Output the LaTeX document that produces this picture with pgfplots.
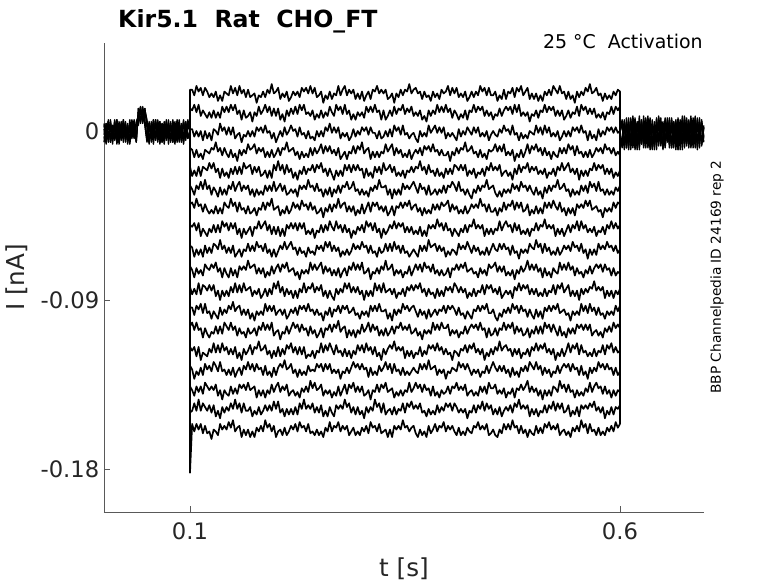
\documentclass[border=0pt]{standalone}
\usepackage{fontspec}
\setmainfont{DejaVu Sans}
\usepackage{pgfplots}
\usepackage{pgfplotstable}
\pgfplotsset{compat=1.18}

% current traces during the step, in units of 0.001 nA
\pgfplotstableread{
x a1 a2 a3 a4 a5 a6 a7 a8 a9 a10 a11 a12 a13 a14 a15 a16 a17 a18
0.1 0 0 0 0 0 0 0 0 0 0 0 0 0 0 0 0 0 0
0.1 22 12 1 -9 -19 -29 -39 -50 -61 -72 -83 -94 -104 -115 -125 -136 -150 -182
0.1025 22 11 1 -10 -24 -31 -38 -51 -62 -74 -87 -94 -102 -117 -127 -138 -149 -156
0.105 19 14 -3 -14 -21 -34 -41 -49 -67 -78 -84 -98 -106 -115 -132 -141 -145 -160
0.1075 24 10 0 -10 -24 -29 -36 -53 -63 -73 -87 -93 -102 -120 -128 -136 -149 -156
0.11 21 14 -3 -14 -19 -31 -40 -49 -66 -76 -81 -95 -106 -115 -130 -139 -143 -159
0.1125 23 8 0 -12 -24 -27 -39 -56 -63 -74 -87 -92 -105 -122 -126 -136 -149 -156
0.115 19 11 -5 -15 -19 -31 -43 -52 -67 -77 -82 -97 -110 -118 -130 -140 -145 -161
0.1175 23 9 0 -10 -20 -26 -39 -54 -61 -71 -83 -92 -105 -119 -124 -134 -147 -157
0.12 21 7 -4 -11 -21 -31 -42 -56 -65 -73 -85 -97 -108 -120 -127 -136 -149 -161
0.1225 18 10 -1 -12 -17 -29 -44 -52 -62 -74 -82 -96 -110 -116 -125 -138 -146 -160
0.125 20 7 -5 -9 -20 -34 -42 -54 -65 -71 -85 -100 -107 -118 -128 -136 -150 -164
0.1275 18 11 1 -10 -17 -30 -44 -50 -60 -73 -82 -96 -108 -113 -123 -138 -146 -159
0.13 21 7 0 -6 -22 -32 -40 -54 -61 -70 -88 -98 -104 -118 -125 -135 -152 -160
0.1325 16 10 -2 -11 -20 -35 -44 -50 -63 -75 -85 -100 -108 -114 -128 -141 -149 -162
0.135 19 7 4 -9 -25 -30 -41 -54 -58 -73 -90 -94 -104 -118 -123 -138 -153 -156
0.1375 16 13 0 -13 -20 -34 -44 -48 -63 -78 -85 -98 -108 -113 -128 -143 -147 -159
0.14 21 10 2 -9 -24 -31 -38 -51 -61 -73 -88 -95 -102 -117 -127 -138 -150 -157
0.1425 20 13 -2 -12 -22 -34 -40 -49 -65 -76 -85 -97 -104 -115 -130 -140 -147 -159
0.145 19 10 2 -14 -25 -29 -41 -53 -62 -78 -88 -93 -106 -119 -127 -141 -149 -155
0.1475 24 14 -2 -10 -20 -31 -36 -49 -65 -73 -83 -95 -102 -116 -130 -136 -145 -158
0.15 20 11 2 -14 -23 -27 -40 -52 -61 -77 -86 -91 -106 -119 -126 -140 -148 -154
0.1525 23 14 -4 -12 -19 -32 -38 -49 -67 -74 -81 -96 -104 -115 -131 -137 -143 -160
0.155 19 9 -2 -16 -23 -29 -43 -55 -65 -78 -86 -94 -109 -121 -128 -140 -148 -158
0.1575 24 11 -1 -10 -19 -27 -38 -52 -63 -72 -82 -93 -105 -118 -126 -135 -145 -157
0.16 20 6 -6 -13 -23 -32 -42 -57 -67 -74 -86 -98 -108 -122 -130 -137 -150 -163
0.1625 22 11 -2 -10 -17 -29 -41 -52 -63 -72 -81 -95 -107 -116 -125 -135 -145 -159
0.165 18 7 -3 -12 -20 -31 -44 -55 -64 -74 -85 -98 -110 -119 -127 -138 -149 -162
0.1675 22 8 0 -7 -19 -29 -40 -53 -60 -69 -84 -95 -105 -117 -123 -134 -149 -159
0.17 18 10 -3 -10 -18 -34 -44 -51 -64 -73 -83 -100 -108 -114 -127 -138 -147 -163
0.1725 19 5 0 -9 -23 -31 -43 -56 -61 -72 -88 -97 -107 -119 -124 -137 -152 -160
0.175 20 10 -3 -7 -19 -35 -41 -51 -64 -71 -85 -101 -105 -115 -128 -136 -149 -163
0.1775 15 8 2 -12 -22 -31 -45 -52 -59 -76 -87 -96 -109 -116 -124 -142 -151 -158
0.18 19 13 0 -9 -19 -34 -41 -48 -62 -73 -84 -98 -104 -112 -127 -138 -147 -160
0.1825 18 9 2 -11 -24 -32 -42 -52 -61 -76 -89 -96 -106 -117 -126 -141 -151 -157
0.185 21 11 -1 -9 -23 -34 -38 -50 -64 -73 -87 -98 -102 -116 -130 -138 -149 -160
0.1875 18 14 3 -14 -21 -29 -42 -48 -60 -78 -84 -92 -106 -114 -125 -142 -146 -154
0.19 22 10 -1 -11 -25 -32 -38 -53 -65 -75 -88 -96 -103 -119 -130 -138 -149 -158
0.1925 20 13 0 -14 -21 -29 -40 -50 -63 -77 -84 -93 -106 -117 -128 -140 -146 -156
0.195 25 8 -4 -10 -25 -32 -36 -55 -67 -72 -87 -96 -102 -121 -131 -135 -149 -160
0.1975 20 12 -1 -14 -18 -27 -42 -51 -63 -76 -81 -93 -109 -117 -126 -139 -144 -157
0.2 21 8 -6 -12 -21 -32 -41 -55 -67 -73 -84 -98 -107 -120 -130 -136 -148 -163
0.2025 23 12 -3 -9 -16 -30 -40 -51 -64 -71 -80 -96 -106 -115 -126 -134 -144 -160
0.205 17 6 0 -13 -21 -28 -45 -56 -61 -75 -86 -95 -111 -120 -124 -139 -150 -159
0.2075 20 9 -3 -9 -18 -32 -42 -52 -63 -71 -83 -98 -107 -116 -126 -136 -148 -162
0.21 18 5 2 -10 -23 -29 -44 -56 -59 -73 -88 -95 -108 -119 -122 -138 -152 -158
0.2125 21 11 -2 -6 -18 -34 -40 -50 -63 -70 -84 -100 -104 -114 -127 -135 -148 -162
0.215 16 8 0 -11 -22 -33 -44 -52 -61 -75 -87 -98 -108 -116 -126 -141 -151 -160
0.2175 18 12 3 -10 -20 -31 -42 -49 -59 -74 -85 -95 -105 -113 -124 -139 -148 -157
0.22 21 9 0 -9 -25 -33 -38 -52 -63 -73 -89 -97 -102 -118 -129 -138 -151 -159
0.2225 19 13 1 -13 -22 -31 -41 -49 -62 -77 -85 -94 -105 -115 -127 -141 -147 -156
0.225 21 9 -3 -11 -26 -35 -39 -53 -66 -75 -89 -98 -103 -119 -131 -139 -151 -160
0.2275 18 14 2 -15 -21 -29 -42 -49 -62 -79 -84 -93 -107 -115 -127 -142 -145 -155
0.23 23 11 -2 -11 -23 -31 -37 -52 -65 -74 -86 -95 -103 -119 -130 -137 -148 -158
0.2325 21 14 -1 -14 -19 -29 -40 -49 -64 -76 -81 -93 -106 -115 -128 -139 -143 -157
0.235 23 9 -4 -12 -23 -31 -39 -55 -67 -74 -86 -96 -105 -121 -130 -136 -148 -160
0.2375 20 10 0 -14 -20 -26 -42 -53 -62 -76 -83 -92 -109 -119 -125 -139 -146 -156
0.24 24 8 -4 -9 -21 -30 -38 -55 -65 -70 -84 -96 -104 -120 -128 -133 -148 -161
0.2425 20 11 -3 -13 -18 -29 -42 -52 -64 -74 -81 -95 -108 -117 -127 -137 -145 -160
0.245 23 6 -5 -9 -22 -32 -40 -57 -66 -71 -86 -98 -106 -121 -128 -134 -150 -162
0.2475 18 9 0 -12 -18 -28 -44 -53 -61 -74 -83 -95 -110 -117 -124 -138 -147 -159
0.25 19 7 -3 -10 -20 -32 -43 -54 -63 -72 -85 -98 -108 -118 -126 -137 -150 -162
0.2525 21 11 0 -7 -17 -31 -41 -50 -61 -70 -82 -97 -105 -113 -124 -135 -146 -160
0.255 15 7 -3 -12 -22 -35 -46 -54 -64 -76 -88 -101 -110 -118 -128 -141 -152 -163
0.2575 19 10 2 -8 -20 -31 -41 -50 -59 -72 -85 -96 -105 -114 -124 -138 -149 -158
0.26 17 8 0 -11 -24 -34 -43 -53 -62 -75 -89 -98 -106 -117 -127 -140 -152 -160
0.2625 21 13 4 -8 -20 -30 -39 -48 -59 -73 -85 -94 -103 -113 -124 -138 -147 -155
0.265 17 10 -1 -12 -23 -35 -43 -51 -64 -77 -88 -99 -107 -116 -129 -142 -150 -160
0.2675 20 8 2 -10 -26 -31 -39 -53 -61 -74 -90 -95 -103 -119 -127 -139 -152 -157
0.27 19 14 -1 -13 -21 -33 -41 -48 -64 -77 -84 -96 -105 -114 -129 -141 -146 -158
0.2725 24 11 2 -9 -24 -29 -36 -52 -62 -73 -87 -93 -101 -118 -127 -136 -148 -155
0.275 19 13 -4 -15 -21 -33 -41 -50 -67 -78 -84 -97 -107 -117 -132 -141 -146 -160
0.2775 22 9 -1 -13 -24 -29 -39 -54 -64 -75 -86 -93 -105 -120 -128 -138 -148 -157
0.28 24 14 -3 -11 -18 -30 -38 -50 -66 -73 -81 -95 -104 -116 -129 -135 -143 -159
0.2825 19 9 -1 -15 -21 -27 -43 -54 -63 -77 -84 -93 -110 -120 -126 -140 -147 -157
0.285 22 11 -5 -11 -18 -31 -40 -52 -66 -72 -81 -97 -106 -117 -129 -135 -145 -162
0.2875 20 6 -3 -12 -22 -30 -43 -57 -64 -74 -86 -96 -109 -121 -126 -137 -150 -160
0.29 22 9 1 -8 -18 -27 -40 -53 -60 -70 -83 -94 -106 -117 -123 -134 -147 -158
0.2925 17 6 -3 -12 -21 -32 -45 -55 -63 -74 -86 -98 -110 -119 -126 -139 -151 -162
0.295 20 10 0 -8 -18 -31 -42 -51 -61 -71 -83 -97 -106 -114 -124 -136 -147 -160
0.2975 17 8 -2 -10 -21 -34 -44 -53 -63 -74 -87 -100 -108 -117 -127 -139 -151 -162
0.3 21 10 2 -6 -20 -31 -39 -50 -59 -70 -85 -96 -103 -114 -124 -136 -149 -158
0.3025 16 7 0 -12 -25 -34 -44 -54 -62 -76 -90 -98 -107 -118 -127 -141 -153 -160
0.305 19 13 2 -10 -20 -32 -41 -48 -61 -75 -85 -96 -105 -113 -126 -140 -147 -157
0.3075 21 10 -2 -9 -24 -35 -38 -51 -65 -73 -88 -99 -102 -117 -131 -138 -150 -161
0.31 17 13 2 -15 -22 -30 -43 -49 -61 -79 -85 -93 -107 -115 -126 -143 -147 -155
0.3125 22 10 -1 -11 -25 -32 -38 -53 -65 -75 -88 -96 -103 -119 -130 -138 -149 -158
0.315 21 14 -1 -14 -19 -29 -40 -49 -64 -76 -81 -93 -106 -115 -128 -139 -143 -157
0.3175 24 10 -4 -11 -22 -31 -38 -54 -67 -73 -85 -96 -104 -120 -130 -135 -147 -160
0.32 20 11 0 -14 -19 -26 -42 -52 -62 -76 -82 -92 -109 -118 -125 -139 -145 -156
0.3225 22 6 -4 -11 -23 -30 -40 -57 -65 -72 -86 -96 -106 -122 -128 -135 -150 -161
0.325 20 11 -3 -12 -17 -30 -43 -52 -64 -74 -81 -96 -109 -116 -126 -137 -145 -160
0.3275 22 6 0 -7 -21 -29 -40 -55 -60 -69 -86 -95 -105 -119 -123 -134 -151 -159
0.33 17 8 -3 -11 -20 -34 -45 -53 -64 -74 -85 -100 -109 -116 -127 -139 -149 -163
0.3325 18 11 1 -9 -18 -31 -43 -50 -60 -73 -84 -97 -107 -114 -124 -138 -148 -159
0.335 20 8 -3 -7 -22 -36 -40 -52 -64 -71 -87 -101 -104 -116 -129 -137 -151 -163
0.3375 15 13 3 -13 -19 -31 -45 -48 -59 -77 -84 -95 -108 -112 -124 -142 -147 -157
0.34 20 9 0 -9 -24 -34 -40 -52 -63 -74 -89 -98 -104 -117 -128 -139 -151 -159
0.3425 18 12 2 -12 -22 -31 -41 -49 -61 -76 -86 -95 -105 -115 -127 -141 -148 -157
0.345 22 11 -2 -10 -24 -34 -38 -51 -65 -74 -87 -97 -102 -117 -130 -138 -149 -159
0.3475 19 14 3 -14 -21 -28 -41 -49 -61 -78 -84 -92 -106 -115 -126 -141 -145 -154
0.35 22 9 -2 -12 -25 -31 -38 -54 -65 -75 -88 -95 -104 -121 -130 -138 -150 -158
0.3525 21 12 -1 -14 -21 -29 -40 -51 -64 -76 -83 -93 -106 -117 -128 -139 -145 -157
0.355 25 10 -4 -10 -22 -31 -37 -54 -67 -72 -85 -96 -103 -120 -130 -134 -147 -160
0.3575 20 13 -2 -15 -19 -29 -42 -51 -65 -77 -82 -94 -108 -117 -128 -139 -144 -158
0.36 22 8 -1 -12 -22 -27 -40 -55 -63 -74 -85 -93 -107 -121 -126 -137 -148 -157
0.3625 23 10 -4 -10 -19 -30 -39 -53 -65 -71 -82 -96 -105 -118 -128 -134 -146 -161
0.365 20 8 -6 -12 -20 -33 -43 -55 -67 -74 -84 -99 -109 -119 -129 -137 -148 -163
0.3675 21 11 0 -9 -16 -28 -41 -51 -61 -71 -81 -95 -107 -115 -124 -135 -145 -159
0.37 17 6 -3 -13 -21 -31 -45 -56 -64 -75 -86 -98 -111 -120 -127 -139 -150 -162
0.3725 21 8 -1 -8 -19 -30 -41 -53 -61 -70 -84 -96 -106 -117 -124 -135 -149 -160
0.375 18 5 -3 -10 -23 -34 -44 -56 -64 -73 -88 -100 -108 -119 -127 -138 -152 -163
0.3775 19 11 3 -8 -18 -29 -42 -50 -58 -72 -84 -95 -106 -114 -122 -137 -148 -157
0.38 16 8 -1 -11 -22 -34 -44 -52 -62 -75 -87 -99 -108 -116 -127 -141 -151 -161
0.3825 21 11 1 -7 -21 -33 -39 -50 -61 -71 -86 -97 -102 -114 -126 -136 -149 -159
0.385 18 9 3 -11 -24 -31 -42 -52 -60 -76 -89 -95 -106 -117 -125 -141 -151 -156
0.3875 20 14 -1 -10 -20 -34 -39 -47 -64 -74 -84 -98 -103 -113 -130 -139 -146 -160
0.39 17 10 2 -13 -24 -31 -42 -51 -61 -77 -88 -95 -106 -117 -127 -142 -150 -157
0.3925 22 13 -1 -10 -22 -33 -38 -49 -64 -74 -85 -96 -102 -115 -129 -138 -147 -158
0.395 20 10 2 -13 -25 -29 -40 -53 -62 -77 -88 -93 -105 -119 -127 -140 -149 -155
0.3975 21 14 -4 -13 -20 -33 -39 -49 -67 -76 -83 -97 -105 -116 -132 -139 -145 -160
0.4 24 10 -1 -11 -23 -29 -37 -53 -64 -73 -85 -93 -103 -119 -128 -136 -147 -157
0.4025 19 12 -3 -16 -20 -30 -43 -52 -66 -78 -83 -95 -109 -118 -129 -140 -145 -159
0.405 23 7 -1 -11 -23 -27 -39 -56 -63 -73 -86 -93 -106 -122 -126 -136 -149 -157
0.4075 20 11 -3 -13 -18 -29 -42 -52 -64 -74 -81 -95 -108 -117 -127 -137 -145 -160
0.41 23 9 -5 -9 -19 -32 -40 -54 -66 -71 -83 -98 -106 -118 -128 -134 -147 -162
0.4125 18 6 1 -12 -21 -27 -44 -56 -60 -74 -86 -94 -110 -120 -123 -138 -150 -158
0.415 20 9 -3 -9 -18 -32 -42 -52 -63 -71 -83 -98 -107 -116 -126 -136 -148 -162
0.4175 18 7 0 -10 -21 -31 -44 -54 -61 -73 -86 -97 -108 -117 -124 -138 -150 -160
0.42 21 11 -2 -6 -18 -34 -40 -50 -63 -70 -84 -100 -104 -114 -127 -135 -148 -162
0.4225 16 6 2 -11 -24 -31 -44 -54 -59 -75 -89 -96 -108 -118 -124 -141 -153 -158
0.425 18 11 0 -10 -21 -34 -42 -50 -62 -74 -86 -98 -105 -114 -127 -139 -149 -160
0.4275 21 10 -2 -8 -23 -36 -39 -51 -65 -73 -88 -100 -103 -116 -130 -138 -150 -161
0.43 18 14 2 -12 -20 -31 -41 -47 -61 -76 -84 -95 -105 -113 -127 -141 -146 -157
0.4325 21 10 -1 -11 -25 -33 -39 -52 -64 -75 -88 -96 -103 -118 -129 -139 -150 -158
0.435 19 13 2 -14 -22 -29 -41 -50 -62 -78 -85 -93 -106 -116 -127 -141 -146 -155
0.4375 24 11 -3 -10 -23 -32 -36 -52 -66 -73 -86 -96 -102 -119 -131 -136 -148 -159
0.44 21 13 -1 -14 -20 -29 -40 -50 -64 -76 -82 -93 -106 -116 -128 -139 -144 -157
0.4425 23 8 -3 -12 -24 -30 -39 -56 -66 -74 -87 -95 -105 -122 -129 -136 -149 -159
0.445 19 11 0 -15 -19 -26 -43 -52 -62 -77 -82 -92 -110 -118 -125 -140 -145 -156
0.4475 23 8 -5 -10 -21 -31 -39 -55 -66 -71 -84 -97 -105 -120 -129 -134 -148 -162
0.45 19 10 -2 -11 -17 -30 -43 -52 -63 -73 -82 -97 -109 -116 -126 -137 -146 -161
0.4525 19 6 0 -10 -21 -29 -43 -55 -60 -72 -86 -95 -108 -119 -123 -137 -151 -159
0.455 21 9 -2 -7 -19 -33 -41 -52 -63 -70 -84 -99 -105 -115 -126 -135 -148 -162
0.4575 16 8 -3 -11 -21 -35 -45 -53 -64 -75 -87 -101 -109 -117 -128 -140 -151 -163
0.46 19 12 1 -8 -18 -32 -41 -48 -60 -72 -83 -97 -105 -112 -125 -138 -147 -159
0.4625 17 8 -1 -11 -24 -35 -43 -53 -63 -75 -89 -99 -106 -117 -128 -140 -152 -161
0.465 22 11 3 -7 -22 -31 -38 -50 -60 -72 -87 -95 -102 -115 -125 -137 -149 -156
0.4675 17 13 0 -13 -21 -33 -42 -48 -63 -77 -85 -97 -106 -114 -129 -142 -147 -159
0.47 21 11 1 -11 -24 -31 -39 -51 -62 -75 -87 -94 -103 -117 -127 -139 -149 -156
0.4725 20 13 -2 -13 -22 -33 -40 -50 -66 -77 -85 -97 -105 -116 -131 -140 -146 -159
0.475 23 9 3 -10 -26 -28 -37 -54 -61 -74 -89 -92 -102 -120 -126 -137 -150 -154
0.4775 18 14 -2 -16 -20 -31 -42 -49 -65 -79 -83 -95 -108 -116 -130 -142 -145 -158
0.48 23 10 -1 -12 -23 -29 -38 -53 -64 -74 -85 -93 -104 -119 -128 -137 -147 -157
0.4825 21 14 -5 -14 -18 -32 -41 -50 -68 -76 -81 -97 -107 -116 -131 -138 -143 -161
0.485 24 8 -1 -10 -22 -27 -38 -55 -63 -72 -85 -93 -105 -121 -126 -135 -148 -157
0.4875 19 10 -4 -14 -19 -30 -43 -53 -65 -75 -82 -96 -109 -118 -128 -138 -146 -161
0.49 21 8 -2 -11 -20 -29 -42 -55 -63 -73 -84 -95 -108 -119 -125 -136 -148 -159
0.4925 23 10 -4 -7 -17 -32 -39 -52 -65 -69 -82 -99 -105 -116 -128 -133 -146 -163
0.495 17 5 0 -12 -22 -29 -45 -56 -60 -74 -87 -95 -110 -120 -123 -139 -152 -159
0.4975 20 9 -1 -8 -19 -32 -42 -52 -62 -71 -84 -98 -106 -115 -125 -136 -148 -161
0.5 17 8 -2 -10 -21 -34 -44 -53 -63 -74 -87 -100 -108 -117 -127 -139 -151 -162
0.5025 20 11 3 -7 -19 -30 -40 -49 -58 -71 -84 -95 -104 -113 -123 -137 -148 -157
0.505 16 7 -1 -11 -23 -34 -44 -53 -62 -75 -88 -99 -108 -117 -127 -141 -152 -161
0.5075 19 11 2 -9 -21 -32 -41 -50 -60 -73 -86 -96 -104 -114 -125 -138 -149 -158
0.51 16 10 -2 -13 -23 -36 -44 -51 -65 -78 -88 -100 -108 -116 -130 -143 -150 -161
0.5125 21 14 3 -9 -20 -30 -38 -47 -60 -73 -84 -94 -102 -113 -126 -138 -146 -156
0.515 19 10 -1 -13 -25 -33 -41 -52 -64 -77 -88 -96 -105 -118 -129 -141 -150 -158
0.5175 22 13 2 -11 -22 -29 -38 -50 -62 -75 -85 -93 -103 -116 -127 -138 -146 -155
0.52 19 11 -3 -15 -23 -32 -41 -52 -66 -78 -86 -96 -107 -119 -131 -141 -148 -159
0.5225 24 13 -1 -11 -20 -29 -37 -50 -64 -73 -82 -93 -103 -116 -128 -136 -144 -157
0.525 22 8 -3 -13 -24 -30 -40 -56 -66 -75 -87 -95 -106 -122 -129 -137 -149 -159
0.5275 20 11 0 -14 -19 -26 -42 -52 -62 -76 -82 -92 -109 -118 -125 -139 -145 -156
0.53 24 8 -5 -9 -21 -31 -38 -55 -66 -70 -84 -97 -104 -120 -129 -133 -148 -162
0.5325 20 11 -3 -12 -17 -30 -43 -52 -64 -74 -81 -96 -109 -116 -126 -137 -145 -160
0.535 21 6 0 -9 -21 -28 -41 -56 -61 -71 -86 -95 -107 -120 -124 -135 -150 -159
0.5375 17 8 -3 -12 -19 -32 -45 -53 -63 -74 -84 -98 -110 -117 -126 -139 -149 -162
0.54 21 11 0 -7 -17 -31 -41 -50 -61 -70 -82 -97 -105 -113 -124 -135 -146 -160
0.5425 17 7 -3 -10 -22 -35 -44 -54 -64 -74 -88 -101 -108 -118 -128 -139 -152 -163
0.545 19 10 2 -8 -20 -31 -41 -50 -59 -72 -85 -96 -105 -114 -124 -138 -149 -158
0.5475 15 9 0 -13 -23 -34 -45 -52 -62 -77 -88 -98 -108 -116 -127 -142 -151 -160
0.55 21 13 2 -8 -20 -32 -39 -48 -61 -73 -85 -96 -103 -113 -126 -138 -147 -157
0.5525 18 8 -1 -12 -26 -34 -41 -53 -64 -76 -90 -98 -105 -119 -130 -141 -152 -160
0.555 21 14 3 -11 -21 -29 -39 -48 -60 -75 -84 -92 -103 -114 -125 -139 -146 -154
0.5575 19 11 -1 -14 -24 -32 -41 -52 -65 -78 -87 -96 -106 -118 -130 -141 -148 -158
0.56 23 13 0 -11 -21 -29 -37 -50 -63 -74 -84 -93 -103 -117 -128 -137 -146 -156
0.5625 21 9 -5 -14 -24 -33 -40 -54 -68 -76 -86 -97 -106 -120 -132 -139 -148 -161
0.565 25 12 0 -10 -20 -27 -37 -52 -63 -72 -83 -92 -103 -118 -126 -134 -145 -156
0.5675 20 9 -4 -14 -21 -30 -42 -54 -66 -76 -84 -96 -109 -120 -129 -139 -147 -160
0.57 21 12 -2 -12 -17 -28 -41 -51 -63 -73 -80 -94 -107 -116 -126 -136 -144 -159
0.5725 23 7 -5 -9 -21 -32 -40 -56 -66 -71 -85 -98 -106 -120 -128 -134 -149 -162
0.575 19 9 1 -11 -18 -27 -43 -53 -60 -73 -83 -94 -109 -117 -123 -137 -147 -158
0.5775 20 7 -3 -9 -20 -32 -42 -54 -63 -71 -85 -98 -107 -118 -126 -136 -150 -162
0.58 16 10 0 -12 -18 -31 -46 -51 -61 -75 -83 -97 -110 -114 -124 -140 -147 -160
0.5825 20 6 -2 -7 -23 -34 -41 -55 -63 -71 -89 -100 -105 -119 -127 -136 -153 -162
0.585 17 10 2 -10 -20 -31 -43 -50 -59 -74 -85 -96 -107 -114 -124 -140 -149 -158
0.5875 19 9 0 -9 -23 -34 -41 -52 -62 -73 -88 -98 -104 -116 -127 -138 -151 -160
0.59 17 13 2 -12 -20 -32 -43 -48 -61 -77 -85 -96 -107 -113 -126 -142 -147 -157
0.5925 21 9 -1 -9 -25 -34 -38 -52 -64 -73 -89 -98 -102 -118 -130 -138 -151 -160
0.595 19 13 2 -13 -22 -30 -41 -49 -61 -77 -85 -93 -105 -115 -126 -141 -147 -155
0.5975 22 11 -1 -11 -24 -32 -38 -52 -65 -75 -87 -96 -103 -118 -130 -138 -148 -158
0.6 21 13 0 -13 -21 -29 -39 -50 -63 -76 -84 -93 -105 -117 -128 -139 -146 -156
0.6 -1 -1 -1 -1 -1 -1 -1 -1 -1 -1 -1 -1 -1 -1 -1 -1 -1 -1
}\steptable

% holding current before the step
\pgfplotstableread{
x b1 b2 b3 b4 b5 b6
0.0000 3 -6 1 -4 -2 4
0.0025 -5 4 -7 2 4 -3
0.0050 5 -3 6 -6 -4 5
0.0075 -6 2 -4 5 6 -6
0.0100 2 -7 3 -2 -5 3
0.0125 -4 5 -5 6 3 -4
0.0150 6 -2 2 -7 -6 6
0.0175 -7 3 -6 1 5 -2
0.0200 1 -5 5 -3 -3 4
0.0225 -3 6 -2 4 6 -6
0.0250 5 -4 4 -6 -2 2
0.0275 -6 1 -7 3 4 -5
0.0300 3 -6 2 -5 -7 6
0.0325 -2 5 -4 6 2 -3
0.0350 6 -3 5 -2 -4 4
0.0375 -5 4 -6 3 5 -6
0.0400 12 5 10 3 8 12
0.0425 4 13 5 11 13 6
0.0450 13 4 12 6 5 11
0.0475 6 11 3 12 12 4
0.0500 -4 6 -6 2 3 -5
0.0525 5 -5 3 -7 -6 4
0.0550 -6 2 -4 5 4 -3
0.0575 3 -7 6 -3 -4 6
0.0600 -5 4 -3 6 6 -5
0.0625 6 -2 5 -6 -3 3
0.0650 -3 5 -7 2 5 -6
0.0675 4 -6 2 -4 -6 4
0.0700 -7 3 -5 5 3 -2
0.0725 2 -4 6 -2 -5 5
0.0750 -4 6 -3 4 2 -7
0.0775 5 -5 4 -6 -4 3
0.0800 -6 2 -6 3 6 -4
0.0825 3 -7 3 -4 -2 5
0.0850 -2 5 -5 6 4 -6
0.0875 6 -3 4 -5 -6 2
0.0900 -5 4 -6 2 3 -3
0.0925 4 -6 5 -7 -3 6
0.0950 -3 3 -2 5 5 -5
0.0975 5 -4 6 -3 -4 3
0.1000 -1 1 0 -1 0 0
}\pretable

% holding current after the step
\pgfplotstableread{
x b1 b2 b3 b4 b5 b6
0.6000 -1 -2 0 -3 0 -1
0.6025 6 -9 4 -7 -7 5
0.6050 -8 5 -10 3 6 -8
0.6075 4 -6 7 -9 -9 4
0.6100 -9 7 -4 5 3 -10
0.6125 5 -10 6 -6 -6 7
0.6150 -6 3 -9 7 8 -5
0.6175 7 -7 2 -10 -4 6
0.6200 -10 4 -6 4 5 -9
0.6225 3 -8 8 -5 -10 3
0.6250 -7 6 -5 6 4 -7
0.6275 8 -5 3 -9 -8 5
0.6300 -4 7 -9 2 6 -4
0.6325 5 -9 5 -7 -5 8
0.6350 -9 2 -7 6 7 -10
0.6375 6 -6 4 -10 -9 3
0.6400 -8 5 -10 3 3 -6
0.6425 2 -10 6 -6 -6 7
0.6450 -6 6 -4 7 8 -8
0.6475 7 -7 3 -8 -4 5
0.6500 -10 4 -8 4 5 -9
0.6525 4 -8 7 -5 -9 6
0.6550 -5 7 -6 5 2 -4
0.6575 6 -6 2 -9 -7 7
0.6600 -9 3 -9 6 7 -8
0.6625 5 -9 5 -7 -4 4
0.6650 -7 5 -5 3 6 -10
0.6675 3 -5 7 -10 -10 5
0.6700 -8 6 -10 5 4 -5
0.6725 6 -10 4 -6 -6 8
0.6750 -5 4 -7 7 8 -9
0.6775 7 -7 6 -8 -5 3
0.6800 -9 5 -4 4 6 -7
0.6825 4 -8 8 -6 -9 6
0.6850 -6 7 -9 5 3 -4
0.6875 8 -6 3 -9 -7 7
0.6900 -10 4 -6 6 7 -9
0.6925 5 -9 7 -5 -4 4
0.6950 -7 6 -8 4 5 -7
0.6975 3 -4 2 -6 -3 2
}\posttable

\begin{document}
\begin{tikzpicture}
\useasboundingbox (-78pt,-53.25pt) rectangle (505.5pt,384pt);
\begin{axis}[
  scale only axis, width=450pt, height=351.75pt,
  xmin=0, xmax=0.6977, ymin=-202.9, ymax=46.86,
  axis x line*=bottom, axis y line*=left,
  axis line style={-, draw=black!65, line width=0.6pt},
  tick align=inside, major tick length=4.5pt,
  tick style={draw=black!65, line width=0.6pt},
  xtick={0.1,0.6}, xticklabels={0.1,0.6},
  ytick={-180,-90,0}, yticklabels={-0.18,-0.09,0},
  /pgf/number format/assume math mode=true,
  ticklabel style={font=\fontsize{17}{20}\selectfont, text=black!85},
  xticklabel style={yshift=-4.5pt},
  clip=false,
  xlabel={t [s]}, ylabel={I [nA]},
  xlabel style={font=\fontsize{18.5}{22}\selectfont, text=black!85,
    at={(axis description cs:0.5,-0.1365)}, anchor=base},
  ylabel style={font=\fontsize{18.5}{22}\selectfont, text=black!85,
    at={(axis description cs:-0.145,0.5)}, anchor=center},
]
\pgfplotsinvokeforeach{1,...,6}{
  \addplot[black, line width=1pt, line join=round] table[x=x, y=b#1] {\pretable};
  \addplot[black, line width=1pt, line join=round] table[x=x, y=b#1] {\posttable};
}
\pgfplotsinvokeforeach{1,...,18}{
  \addplot[black, line width=1.25pt, line join=round] table[x=x, y=a#1] {\steptable};
}
\node[anchor=base west, inner sep=0pt, font=\bfseries\fontsize{17.7}{21}\selectfont]
  at (rel axis cs:0.0233,1.0341) {Kir5.1\ \ Rat\ \ CHO\_FT};
\node[anchor=base east, inner sep=0pt, font=\fontsize{14.2}{17}\selectfont]
  at (rel axis cs:0.9983,0.9893) {25 °C\ \ Activation};
\node[rotate=90, anchor=center, font=\fontsize{10.3}{12}\selectfont]
  at (rel axis cs:1.0217,0.501) {BBP Channelpedia ID 24169 rep 2};
\end{axis}
\end{tikzpicture}
\end{document}
